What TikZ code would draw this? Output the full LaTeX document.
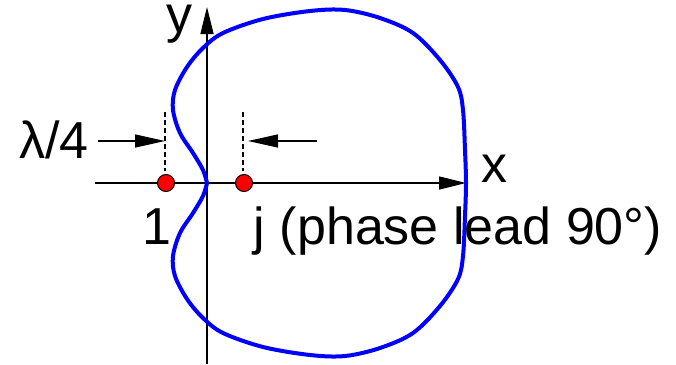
\documentclass[tikz,border=0pt]{standalone}
\usepackage{fontspec}
\setmainfont{Liberation Sans}
\usetikzlibrary{arrows.meta}
\begin{document}
\begin{tikzpicture}[x=1pt,y=-1pt,
  lbl/.style={font=\fontsize{52}{60}\selectfont, inner sep=0pt, anchor=base},
  axis/.style={line width=1.3pt, -{Triangle[length=27pt,width=13pt]}},
  dimarrow/.style={line width=1.3pt, -{Triangle[length=30pt,width=13pt]}},
  guide/.style={line width=1.1pt, dash pattern=on 5pt off 3pt},
  elem/.style={circle, draw=black, line width=1pt, fill=red, minimum size=17pt, inner sep=0pt},
  pattern/.style={draw=blue, line width=4pt, line join=round}]
\useasboundingbox (0,0) rectangle (676,364);
% axes
\coordinate (xs) at (95,183);
\coordinate (xe) at (466,183);
\coordinate (ys) at (207,364);
\coordinate (ye) at (207,7);
\draw[axis] (xs) -- (xe);
\draw[axis] (ys) -- (ye);
% radiation pattern
\draw[pattern] plot[smooth, tension=0.55] coordinates {
 (207,183) (203,170) (193,153) (180,133) (173,110) (175,90) (187,67) (203,48)
 (223,33) (263,19) (310,11) (345,10) (380,18) (413,33) (440,60) (458,87)
 (463,110) (465,150) (466,183) (465,216) (463,256) (458,279) (440,306) (413,333)
 (380,348) (345,356) (310,355) (263,347) (223,333) (203,318) (187,299) (175,276)
 (173,256) (180,233) (193,213) (203,196) (207,183)};
% dimension guides
\coordinate (g1t) at (165,112);
\coordinate (g1b) at (165,171);
\coordinate (g2t) at (243,112);
\coordinate (g2b) at (243,171);
\draw[guide] (g1t) -- (g1b);
\draw[guide] (g2t) -- (g2b);
\coordinate (a1s) at (98,141);
\coordinate (a1e) at (165,141);
\coordinate (a2s) at (317,141);
\coordinate (a2e) at (248,141);
\draw[dimarrow] (a1s) -- (a1e);
\draw[dimarrow] (a2s) -- (a2e);
% elements
\node[elem] (e1) at (166,183) {};
\node[elem] (e2) at (244,183) {};
% labels
\node[lbl, text height=28pt] (ly) at (179,32) {y};
\node[lbl] (lx) at (494,182) {x};
\node[lbl] (l1) at (157,244) {1};
\node[lbl] (lj) at (458,244) {j (phase lead 90°)};
\node[lbl] (ll) at (54,158) {λ/4};
\end{tikzpicture}
\end{document}
